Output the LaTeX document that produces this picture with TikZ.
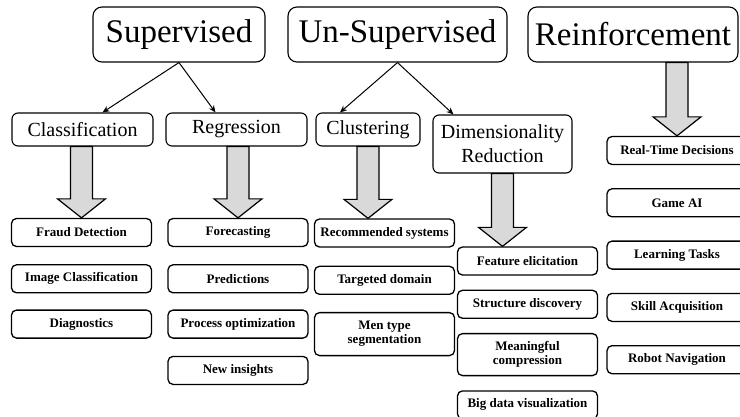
\documentclass[tikz,border=0pt]{standalone}
\usepackage{fontspec}
\setmainfont{Liberation Serif}
\usetikzlibrary{arrows.meta, positioning, calc}

\begin{document}
\begin{tikzpicture}[x=1pt, y=-1pt,
			every node/.style={
				draw,
				rounded corners=5pt,
				align=center,
				inner sep=1pt,
				line width=1.3pt
			},
			top/.style={rounded corners=9pt, line width=1.1pt, minimum height=55pt, font=\fontsize{33}{36}\selectfont},
			sub/.style={rounded corners=6pt, line width=1.1pt, minimum height=33pt, font=\fontsize{20}{24}\selectfont},
			leaf/.style={minimum width=140pt, minimum height=28pt, font=\fontsize{13}{14}\selectfont\bfseries},
			link/.style={-{Stealth[length=7pt,width=6pt]}, line width=1pt},
			fat/.style={fill=gray!30, line width=1.2pt,
				to path={let \p1=(\tikztostart), \p2=(\tikztotarget) in
					(\x2-11pt,\y1) -- (\x2-11pt,\y2+19pt) -- (\x2-24pt,\y2+19pt) -- (\x2,\y2)
					-- (\x2+24pt,\y2+19pt) -- (\x2+11pt,\y2+19pt) -- (\x2+11pt,\y1) -- cycle}}
			]
			\useasboundingbox (0,0) rectangle (740,416);
			
			% Level 1
			\node[top, minimum width=172pt] (Sup) at (179,34.5) {Supervised};
			\node[top, minimum width=219pt] (Unsup) at (397.5,34.5) {Un-Supervised};
			\node[top, minimum width=210pt] (Reinf) at (633,34.5) {Reinforcement};
			
			% Level 2
			\node[sub, minimum width=141pt] (Class) at (82.5,129.5) {Classification};
			\node[sub, minimum width=141pt] (Regr) at (236.5,129.5) {Regression};
			\node[sub, minimum width=104pt] (Clus) at (368,129.5) {Clustering};
			\node[sub, minimum width=139pt, minimum height=58pt] (Dim) at (502.5,144) {Dimensionality\\Reduction};
			
			% Classification tasks
			\node[leaf] (Fraud) at (81.5,232.5) {Fraud Detection};
			\node[leaf, below=17pt of Fraud] (ImgCl) {Image Classification};
			\node[leaf, below=16pt of ImgCl] (Diag) {Diagnostics};
			
			% Regression tasks
			\node[leaf] (Forecast) at (238,232.5) {Forecasting};
			\node[leaf, below=17pt of Forecast] (Predict) {Predictions};
			\node[leaf, below=16pt of Predict] (ProcOpt) {Process optimization};
			\node[leaf, below=17pt of ProcOpt] (Insight) {New insights};
			
			% Clustering tasks
			\node[leaf] (Recom) at (384.5,233) {Recommended systems};
			\node[leaf, below=18pt of Recom] (Target) {Targeted domain};
			\node[leaf, below=17pt of Target, minimum height=43pt] (MenSeg) {Men type\\segmentation};
			
			% Dimensionality reduction tasks
			\node[leaf] (Feat) at (527.5,261) {Feature elicitation};
			\node[leaf, below=14pt of Feat] (Struct) {Structure discovery};
			\node[leaf, below=14pt of Struct, minimum height=42pt] (Compr) {Meaningful\\compression};
			\node[leaf, below=14pt of Compr] (BigViz) {Big data visualization};
			
			% Reinforcement tasks
			\node[leaf] (RealT) at (677,150.5) {Real-Time Decisions};
			\node[leaf, below=23pt of RealT] (GameAI) {Game AI};
			\node[leaf, below=23pt of GameAI] (LearnT) {Learning Tasks};
			\node[leaf, below=23pt of LearnT] (Skill) {Skill Acquisition};
			\node[leaf, below=23pt of Skill] (Robot) {Robot Navigation};
			
			% Arrows
			\draw[link] (Sup.south) -- ([xshift=20pt]Class.north);
			\draw[link] (Sup.south) -- ([xshift=-21pt]Regr.north);
			\draw[link] (Unsup.south) -- ([xshift=-28pt]Clus.north);
			\draw[link] (Unsup.south) -- ([xshift=-49pt]Dim.north);
			
			\draw[fat] (Class.south) to (Fraud.north);
			\draw[fat] (Regr.south) to (Forecast.north);
			\draw[fat] (Clus.south) to (Clus.south |- Recom.north);
			\draw[fat] (Dim.south) to (Dim.south |- Feat.north);
			\draw[fat] (Reinf.south) to (RealT.north);
			
		\end{tikzpicture}
\end{document}
